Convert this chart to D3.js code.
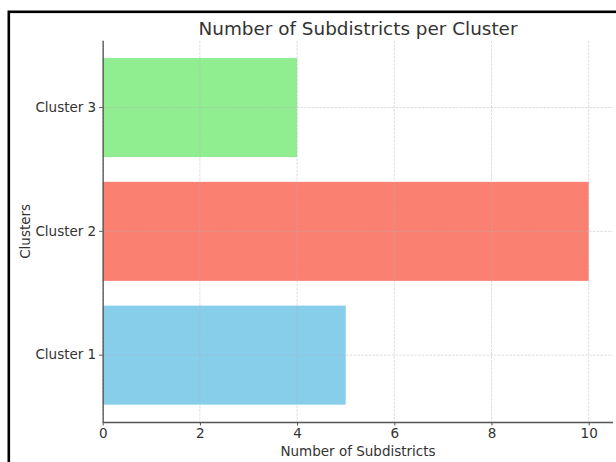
<!DOCTYPE html>
<html>
<head>
<meta charset="utf-8">
<script src="https://cdn.jsdelivr.net/npm/d3@7"></script>
<style>
  html, body { margin: 0; padding: 0; background: #fff; }
  svg { display: block; }
  text { font-family: "DejaVu Sans", sans-serif; }
</style>
</head>
<body>
<script>
const categories = ["Cluster 1", "Cluster 2", "Cluster 3"];
const counts = [5, 10, 4];
const colors = ["#87CEEB", "#FA8072", "#90EE90"];
const xTicks = [0, 2, 4, 6, 8, 10];
const titleText = "Number of Subdistricts per Cluster";
const xLabel = "Number of Subdistricts";
const yLabel = "Clusters";

(function () {
const W = 616, H = 462;
const svg = d3.select("body").append("svg").attr("width", W).attr("height", H);

const pLeft = 102.7, pRight = 613, pTop = 40.7, pBottom = 422;
const fs = 13.5;

// frame
svg.append("rect")
  .attr("x", 8.8).attr("y", 11.8)
  .attr("width", W + 20).attr("height", H + 20)
  .attr("fill", "none").attr("stroke", "#000").attr("stroke-width", 2.6);

const x = d3.scaleLinear().domain([0, 10.5]).range([pLeft, pRight]);
const y = d3.scaleBand().domain(categories.slice().reverse())
  .range([pTop, pBottom]).paddingInner(0.2).paddingOuter(0.14);

// bars
svg.append("g").selectAll("rect").data(categories).join("rect")
  .attr("x", x(0))
  .attr("y", d => y(d))
  .attr("width", (d, i) => x(counts[i]) - x(0))
  .attr("height", y.bandwidth())
  .attr("fill", (d, i) => colors[i]);

// grid (drawn above bars)
const grid = svg.append("g").attr("stroke", "#b0b0b0").attr("stroke-opacity", 0.55)
  .attr("stroke-width", 0.8).attr("stroke-dasharray", "2.6,1.2");
grid.selectAll("line.v").data(xTicks).join("line").attr("class", "v")
  .attr("x1", d => x(d)).attr("x2", d => x(d))
  .attr("y1", pTop).attr("y2", pBottom);
grid.selectAll("line.h").data(categories).join("line").attr("class", "h")
  .attr("x1", pLeft).attr("x2", pRight)
  .attr("y1", d => y(d) + y.bandwidth() / 2).attr("y2", d => y(d) + y.bandwidth() / 2);

// axes
const xAxis = svg.append("g").attr("transform", `translate(0,${pBottom})`)
  .call(d3.axisBottom(x).tickValues(xTicks).tickSize(3.5).tickPadding(3));
const yAxis = svg.append("g").attr("transform", `translate(${pLeft},0)`)
  .call(d3.axisLeft(y).tickSize(3.5).tickPadding(3));
[xAxis, yAxis].forEach(a => {
  a.select(".domain").attr("stroke", "#555").attr("stroke-width", 1.3);
  a.selectAll(".tick line").attr("stroke", "#555").attr("stroke-width", 1);
  a.selectAll(".tick text").attr("fill", "#333").attr("font-size", fs)
    .attr("font-family", "DejaVu Sans, sans-serif");
});
xAxis.select(".domain").attr("d", `M${pLeft},0.5H${pRight}`);
yAxis.select(".domain").attr("d", `M0.5,${pTop}V${pBottom}`);

// title & labels
svg.append("text").attr("x", 358).attr("y", 34.5)
  .attr("text-anchor", "middle").attr("font-size", 18.4).attr("fill", "#333")
  .text(titleText);
svg.append("text").attr("x", 358).attr("y", 455.5)
  .attr("text-anchor", "middle").attr("font-size", fs).attr("fill", "#333")
  .text(xLabel);
svg.append("text").attr("transform", `translate(30,${(pTop + pBottom) / 2}) rotate(-90)`)
  .attr("text-anchor", "middle").attr("font-size", fs).attr("fill", "#333")
  .text(yLabel);
})();
</script>
</body>
</html>
